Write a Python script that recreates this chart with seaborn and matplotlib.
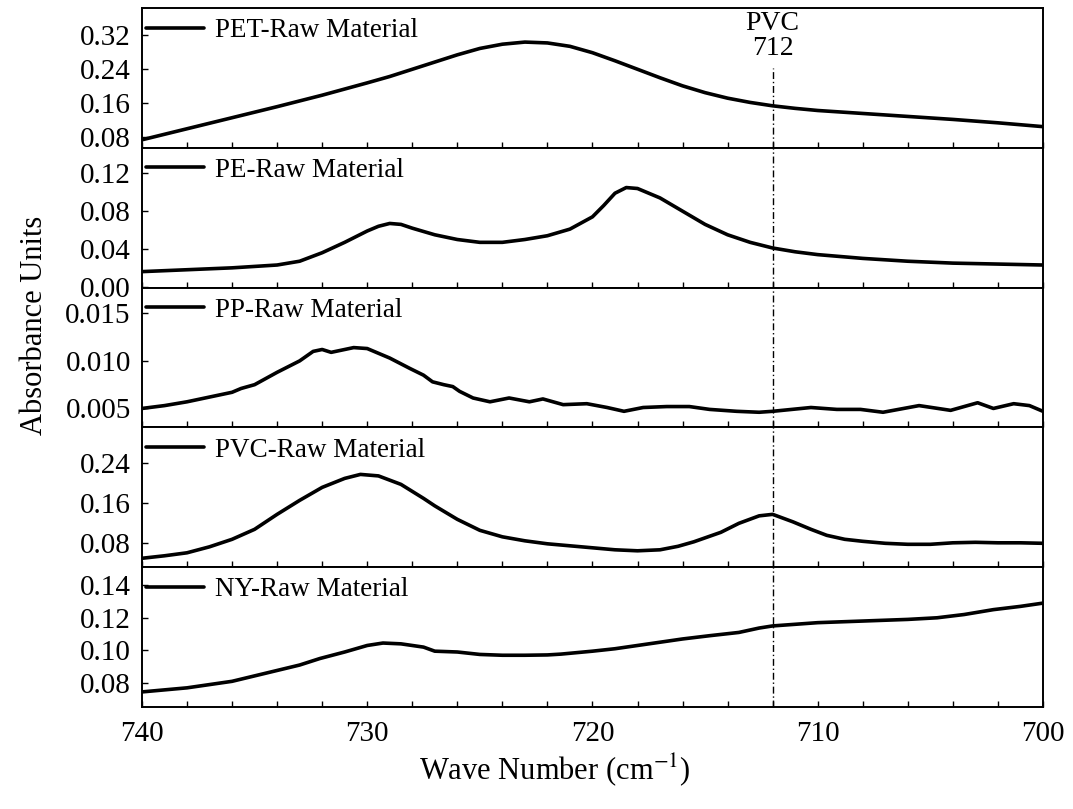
import numpy as np
import pandas as pd
import matplotlib
matplotlib.use("Agg")
import matplotlib.pyplot as plt
from matplotlib.ticker import MultipleLocator, FixedLocator, FormatStrFormatter
import seaborn as sns

# ---------------- data ----------------
w_pet = [740, 738, 736, 734, 732, 730, 729, 728, 727, 726, 725, 724, 723, 722, 721,
         720, 719, 718, 717, 716, 715, 714, 713, 712, 711, 710, 708, 706, 704, 702, 700]
a_pet = [0.073, 0.099, 0.125, 0.151, 0.178, 0.207, 0.222, 0.239, 0.256, 0.273, 0.288,
         0.298, 0.303, 0.301, 0.293, 0.278, 0.259, 0.239, 0.219, 0.200, 0.184, 0.171,
         0.161, 0.153, 0.147, 0.142, 0.135, 0.128, 0.121, 0.113, 0.104]

w_pe = [740, 738, 736, 734, 733, 732, 731, 730, 729.5, 729, 728.5, 728, 727, 726, 725,
        724, 723, 722, 721, 720, 719.5, 719, 718.5, 718, 717, 716, 715, 714, 713, 712,
        711, 710, 708, 706, 704, 702, 700]
a_pe = [0.016, 0.018, 0.020, 0.023, 0.027, 0.036, 0.047, 0.059, 0.064, 0.067, 0.066,
        0.062, 0.055, 0.050, 0.047, 0.047, 0.050, 0.054, 0.061, 0.074, 0.086, 0.099,
        0.105, 0.104, 0.094, 0.080, 0.066, 0.055, 0.047, 0.041, 0.037, 0.034, 0.030,
        0.027, 0.025, 0.024, 0.023]

w_pp = [740, 739, 738, 737, 736, 735.6, 735, 734, 733, 732.4, 732, 731.6, 731, 730.6,
        730, 729.6, 729, 728.1, 727.5, 727.1, 726.6, 726.2, 725.9, 725.3, 724.55, 723.7,
        722.8, 722.2, 721.3, 720.25, 719.35, 718.6, 717.75, 716.7, 715.7, 714.8, 713.6,
        712.6, 712, 710.3, 709.15, 708.1, 707.1, 705.5, 704.1, 702.9, 702.2, 701.3,
        700.6, 700]
a_pp = [0.0050, 0.0053, 0.0057, 0.0062, 0.0067, 0.0071, 0.0075, 0.0088, 0.0100, 0.0110,
        0.0112, 0.0109, 0.0112, 0.0114, 0.0113, 0.0109, 0.0103, 0.0092, 0.0085, 0.0078,
        0.0075, 0.0073, 0.0068, 0.0061, 0.0057, 0.0061, 0.0057, 0.0060, 0.0054, 0.0055,
        0.0051, 0.0047, 0.0051, 0.0052, 0.0052, 0.0049, 0.0047, 0.0046, 0.0047, 0.0051,
        0.0049, 0.0049, 0.0046, 0.0053, 0.0048, 0.0056, 0.0050, 0.0055, 0.0053, 0.0047]

w_pvc = [740, 739, 738, 737, 736, 735, 734, 733, 732, 731, 730.3, 729.5, 728.5, 727.5,
         727, 726, 725, 724, 723, 722, 721, 720, 719, 718, 717, 716.2, 715.5, 714.3,
         713.5, 712.6, 712, 711.1, 710.3, 709.6, 708.8, 708, 707, 706, 705, 704, 703,
         702, 701, 700]
a_pvc = [0.050, 0.055, 0.061, 0.073, 0.088, 0.108, 0.138, 0.166, 0.192, 0.210, 0.218,
         0.215, 0.198, 0.170, 0.155, 0.128, 0.106, 0.093, 0.085, 0.079, 0.075, 0.071,
         0.067, 0.065, 0.067, 0.074, 0.083, 0.102, 0.120, 0.135, 0.138, 0.123, 0.108,
         0.096, 0.088, 0.084, 0.080, 0.078, 0.078, 0.081, 0.082, 0.081, 0.081, 0.080]

w_ny = [740, 738, 736, 734.5, 733, 732.1, 731, 730, 729.3, 728.5, 727.5, 727, 726, 725,
        724, 723, 722, 721.4, 720, 719, 718, 717, 716, 714.8, 713.5, 712.6, 712, 711,
        710, 708, 706, 704.7, 703.5, 702.2, 701, 700]
a_ny = [0.0745, 0.077, 0.081, 0.086, 0.091, 0.095, 0.099, 0.103, 0.1045, 0.104, 0.102,
        0.0995, 0.099, 0.0975, 0.097, 0.097, 0.0972, 0.0977, 0.0995, 0.101, 0.103, 0.105,
        0.107, 0.109, 0.111, 0.1137, 0.115, 0.116, 0.117, 0.118, 0.119, 0.120, 0.122,
        0.125, 0.127, 0.129]

labels = ["PET-Raw Material", "PE-Raw Material", "PP-Raw Material",
          "PVC-Raw Material", "NY-Raw Material"]
y_ticks = [[0.08, 0.16, 0.24, 0.32],
           [0.00, 0.04, 0.08, 0.12],
           [0.005, 0.010, 0.015],
           [0.08, 0.16, 0.24],
           [0.08, 0.10, 0.12, 0.14]]
x_ticks = [740, 730, 720, 710, 700]
marker_x = 712

# ---------------- style ----------------
sns.set_theme(style="ticks")
plt.rcParams["font.family"] = ["Liberation Serif", "DejaVu Serif"]
plt.rcParams["mathtext.fontset"] = "stix"
plt.rcParams["text.color"] = "black"
plt.rcParams["axes.labelcolor"] = "black"
plt.rcParams["xtick.color"] = "black"
plt.rcParams["ytick.color"] = "black"

series = [(w_pet, a_pet), (w_pe, a_pe), (w_pp, a_pp), (w_pvc, a_pvc), (w_ny, a_ny)]
ylims = [(0.054, 0.383), (-0.001, 0.147), (0.003, 0.0177), (0.032, 0.312), (0.0652, 0.151)]
fmts = ["%.2f", "%.2f", "%.3f", "%.2f", "%.2f"]

fig = plt.figure(figsize=(10.73, 8.09), dpi=100)
axes = fig.subplots(5, 1, sharex=True, gridspec_kw=dict(hspace=0))
fig.subplots_adjust(left=0.1323, right=0.972, top=0.990, bottom=0.126)

for i, ax in enumerate(axes):
    w, a = series[i]
    df = pd.DataFrame({"wave": w, "abs": a})
    sns.lineplot(data=df, x="wave", y="abs", ax=ax, color="black", lw=2.6,
                 label=labels[i], sort=False)
    ax.set_xlim(740, 700)
    ax.set_ylim(*ylims[i])
    ax.yaxis.set_major_locator(FixedLocator(y_ticks[i]))
    ax.yaxis.set_major_formatter(FormatStrFormatter(fmts[i]))
    ax.xaxis.set_major_locator(FixedLocator(x_ticks))
    ax.xaxis.set_minor_locator(MultipleLocator(2))
    ax.tick_params(axis="both", which="both", direction="in", length=4, width=1,
                   colors="black", labelsize=21)
    ax.tick_params(axis="y", pad=8)
    ax.tick_params(axis="x", pad=10)
    ax.set_xlabel("")
    ax.set_ylabel("")
    for s in ax.spines.values():
        s.set_visible(True)
        s.set_linewidth(1.4)
        s.set_color("black")
    leg = ax.legend(loc="upper left", bbox_to_anchor=(0, 1 - 6 / 140), frameon=False,
                    fontsize=19.5, handlelength=2.15, handletextpad=0.4,
                    borderaxespad=0.1, borderpad=0.05)
    for t in leg.get_texts():
        t.set_color("black")
    if i == 0:
        ax.axvline(marker_x, ymin=0, ymax=0.57, color="black", lw=1,
                   ls=(0, (5, 2, 1, 2)))
    else:
        ax.axvline(marker_x, color="black", lw=1, ls=(0, (5, 2, 1, 2)))

axes[0].text(marker_x, 0.347, "PVC", ha="center", va="center", fontsize=20,
             color="black")
axes[0].text(marker_x, 0.289, "712", ha="center", va="center", fontsize=20,
             color="black")

fig.text(555 / 1073, 1 - 770 / 809, "Wave Number (cm$^{-1}$)", ha="center",
         va="center", fontsize=22, color="black")
fig.text(35 / 1073, 1 - 325 / 809, "Absorbance Units", ha="center", va="center",
         rotation=90, fontsize=22, color="black")

fig.savefig("out.png", dpi=100)
